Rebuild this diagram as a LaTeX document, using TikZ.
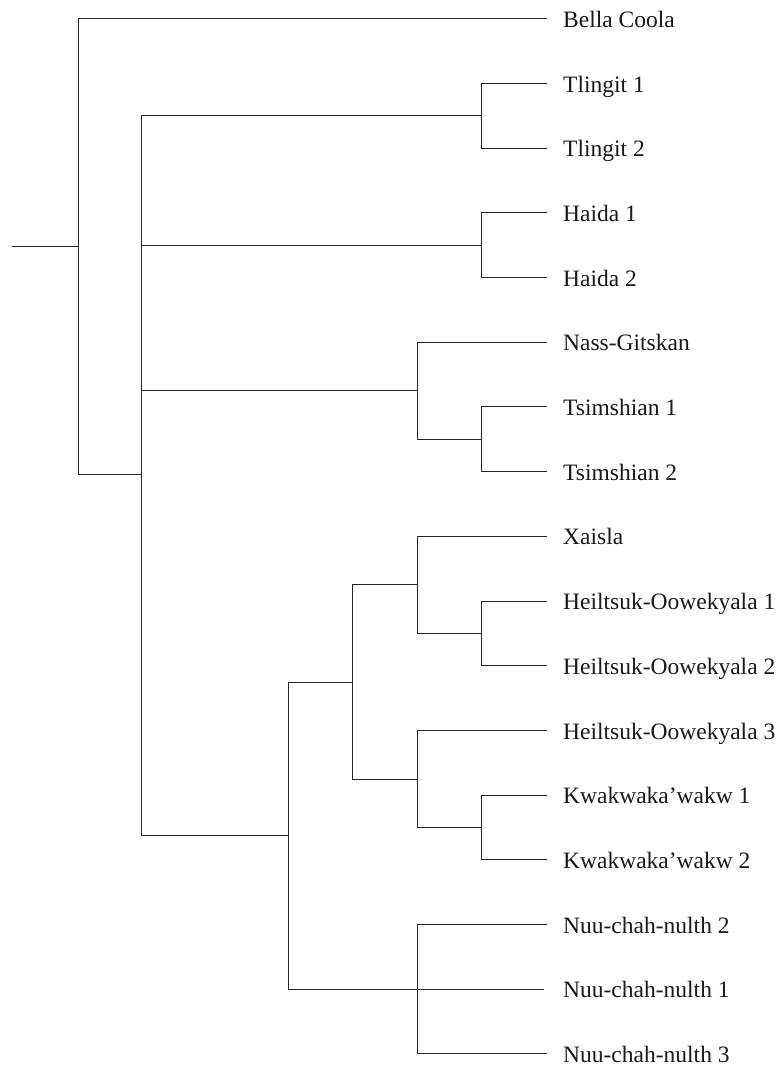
\documentclass[tikz,border=0pt]{standalone}
\usepackage{fontspec}
\setmainfont{Liberation Serif}
\begin{document}
\begin{tikzpicture}[x=1pt,y=-1pt,
  branch/.style={draw=black!85,line width=0.9pt},
  leaf/.style={anchor=base west,inner sep=0pt,text=black!90,font=\fontsize{23.5}{28}\selectfont}]
\useasboundingbox (0,0) rectangle (782,1068);
% leaf labels and tips
\def\tipx{546.7}
\def\labx{563}
\foreach \n/\y/\t in {bc/18.7/Bella Coola, t1/83.4/Tlingit 1, t2/148.1/Tlingit 2,
  h1/212.8/Haida 1, h2/277.5/Haida 2, ng/342.2/Nass-Gitskan, s1/406.9/Tsimshian 1,
  s2/471.6/Tsimshian 2, xa/536.3/Xaisla, o1/601.0/Heiltsuk-Oowekyala 1,
  o2/665.7/Heiltsuk-Oowekyala 2, o3/730.4/Heiltsuk-Oowekyala 3,
  k1/795.1/Kwakwaka’wakw 1, k2/859.8/Kwakwaka’wakw 2, n2/924.5/Nuu-chah-nulth 2,
  n1/989.2/Nuu-chah-nulth 1, n3/1053.9/Nuu-chah-nulth 3}{
  \node[leaf] (\n) at (\labx,\y+8.6) {\t};
  \coordinate (\n-tip) at (\tipx,\y);
}
\coordinate (n1-tip) at (543.5,989.2);
% internal nodes
\coordinate (stub) at (12,246.4);
\coordinate (root) at (78,246.4);
\coordinate (lv2) at (141,474);
\coordinate (tl) at (481.5,115.8);
\coordinate (ha) at (481.5,245.2);
\coordinate (ts) at (481.5,439.3);
\coordinate (nt) at (417,390.7);
\coordinate (ho) at (481.5,633.3);
\coordinate (xh) at (417,584.8);
\coordinate (kw) at (481.5,827.5);
\coordinate (hk) at (417,779);
\coordinate (w2) at (352,682);
\coordinate (wak) at (288,835.5);
\coordinate (nuu) at (417,989.2);
% branches
\draw[branch] (stub) -- (root);
\draw[branch] (root) |- (bc-tip);
\draw[branch] (root) |- (lv2);
\draw[branch] (lv2) |- (tl);
\draw[branch] (lv2) |- (ha);
\draw[branch] (lv2) |- (nt);
\draw[branch] (lv2) |- (wak);
\draw[branch] (tl) |- (t1-tip);
\draw[branch] (tl) |- (t2-tip);
\draw[branch] (ha) |- (h1-tip);
\draw[branch] (ha) |- (h2-tip);
\draw[branch] (nt) |- (ng-tip);
\draw[branch] (nt) |- (ts);
\draw[branch] (ts) |- (s1-tip);
\draw[branch] (ts) |- (s2-tip);
\draw[branch] (wak) |- (w2);
\draw[branch] (wak) |- (n1-tip);
\draw[branch] (w2) |- (xh);
\draw[branch] (w2) |- (hk);
\draw[branch] (xh) |- (xa-tip);
\draw[branch] (xh) |- (ho);
\draw[branch] (ho) |- (o1-tip);
\draw[branch] (ho) |- (o2-tip);
\draw[branch] (hk) |- (o3-tip);
\draw[branch] (hk) |- (kw);
\draw[branch] (kw) |- (k1-tip);
\draw[branch] (kw) |- (k2-tip);
\draw[branch] (nuu) |- (n2-tip);
\draw[branch] (nuu) |- (n3-tip);
\end{tikzpicture}
\end{document}
